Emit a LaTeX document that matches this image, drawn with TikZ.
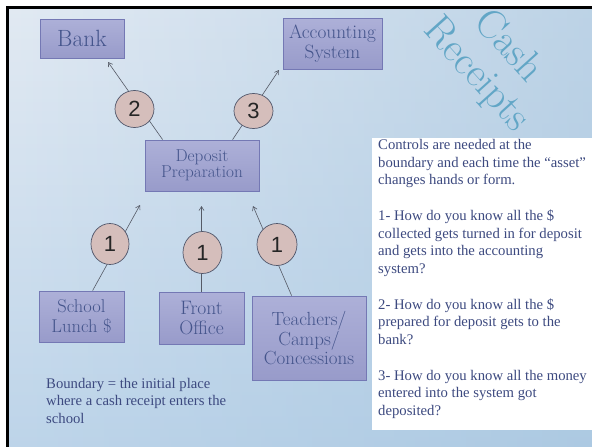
\documentclass[tikz,border=0pt]{standalone}
\usepackage{fontspec}
\newfontfamily\bodyserif{Liberation Serif}
\newfontfamily\digitsans{Liberation Sans}
\usetikzlibrary{arrows.meta,shapes.geometric,fadings}

\definecolor{boxfillA}{HTML}{ADB0D8}
\definecolor{boxfillB}{HTML}{989BCA}
\definecolor{boxline}{HTML}{7478B4}
\definecolor{boxtext}{HTML}{45558C}
\definecolor{bodytext}{HTML}{3D4A80}
\definecolor{tokenfill}{HTML}{D5BEBB}
\definecolor{tokenline}{HTML}{50566A}
\definecolor{flowline}{HTML}{555A66}
\definecolor{titleblue}{HTML}{62A6C6}
\definecolor{bgtop}{HTML}{E2EAF3}
\definecolor{bgbottom}{HTML}{BED5EA}
\definecolor{bgright}{HTML}{9EC0DC}

\tikzfading[name=rightblue, left color=transparent!100, middle color=transparent!90, right color=transparent!0]

\begin{document}
\begin{tikzpicture}[x=1pt,y=-1pt,
  unit/.style={draw=boxline, line width=0.8pt, top color=boxfillA, bottom color=boxfillB,
    text=boxtext, align=center, inner sep=0pt, font=\fontsize{19}{19.5}\selectfont},
  token/.style={ellipse, draw=tokenline, line width=0.7pt, fill=tokenfill, inner sep=0pt,
    font=\digitsans\fontsize{22}{22}\selectfont, text=black!85},
  flow/.style={draw=flowline, line width=0.6pt, -{Straight Barb[length=4pt,width=5pt]}},
  note/.style={text=bodytext, align=left, inner sep=0pt, font=\bodyserif\fontsize{14.7}{17.75}\selectfont}
]
\useasboundingbox (0,0) rectangle (592,447);

% slide background and frame
\fill[white] (0,0) rectangle (592,447);
\shade[top color=bgtop, bottom color=bgbottom] (7,7) rectangle (592,447);
\fill[bgright, path fading=rightblue, fill opacity=0.55] (7,7) rectangle (592,447);
\draw[line width=3pt] (7,447) -- (7,7) -- (592,7);

% text panel
\fill[white] (372,138) rectangle (592,430);

% title
\node[text=titleblue, rotate=-48, align=center, inner sep=0pt,
  font=\fontsize{41}{43}\selectfont] (title) at (492,61) {Cash\\Receipts};

% places where cash is held
\node[unit, minimum width=84pt, minimum height=39pt, font=\fontsize{23.5}{24}\selectfont] (bank) at (82,38.5) {Bank};
\node[unit, minimum width=99pt, minimum height=51pt, font=\fontsize{19.3}{20}\selectfont] (acct) at (332.5,43.5) {Accounting\\System};
\node[unit, minimum width=114pt, minimum height=51pt, font=\fontsize{17.2}{16.5}\selectfont] (dep) at (202,165.5) {Deposit\\Preparation};
\node[unit, minimum width=85pt, minimum height=51pt, font=\fontsize{18.5}{19.4}\selectfont] (lunch) at (81.5,316.5) {School\\Lunch \$};
\node[unit, minimum width=85pt, minimum height=52pt, font=\fontsize{19.5}{19.4}\selectfont] (front) at (201.5,318) {Front\\Office};
\node[unit, minimum width=114pt, minimum height=84pt, font=\fontsize{19}{18.6}\selectfont] (camps) at (309,338) {Teachers/\\Camps/\\Concessions};

% arrow tips
\coordinate (toBank) at (108,62);
\coordinate (toAcct) at (279,70);
\coordinate (fromLunch) at (140,205);
\coordinate (fromFront) at (201.5,206);
\coordinate (fromCamps) at (253,206);

% flows of cash
\draw[flow] ([xshift=18pt]dep.north west) -- (toBank);
\draw[flow] ([xshift=88pt]dep.north west) -- (toAcct);
\draw[flow] ([xshift=54pt]lunch.north west) -- (fromLunch);
\draw[flow] (front.north) -- (fromFront);
\draw[flow] ([xshift=40pt]camps.north west) -- (fromCamps);

% control points
\node[token, minimum width=39pt, minimum height=37pt] (q2) at (134.5,109) {2};
\node[token, minimum width=39pt, minimum height=35pt] (q3) at (253.5,111) {3};
\node[token, minimum width=38pt, minimum height=41pt] (q1a) at (110,244) {1};
\node[token, minimum width=39pt, minimum height=42pt] (q1b) at (202.5,252.5) {1};
\node[token, minimum width=40pt, minimum height=42pt] (q1c) at (277,244.5) {1};

% notes
\node[note, anchor=north west] (controls) at (378,139) {Controls are needed at the\\
boundary and each time the “asset”\\
changes hands or form.\\[17.75pt]
1- How do you know all the \$\\
collected gets turned in for deposit\\
and gets into the accounting\\
system?\\[17.75pt]
2- How do you know all the \$\\
prepared for deposit gets to the\\
bank?\\[17.75pt]
3- How do you know all the money\\
entered into the system got\\
deposited?};

\node[note, anchor=north west, font=\bodyserif\fontsize{14.7}{17.5}\selectfont] (boundary) at (46,378) {Boundary = the initial place\\
where a cash receipt enters the\\
school};
\end{tikzpicture}
\end{document}
